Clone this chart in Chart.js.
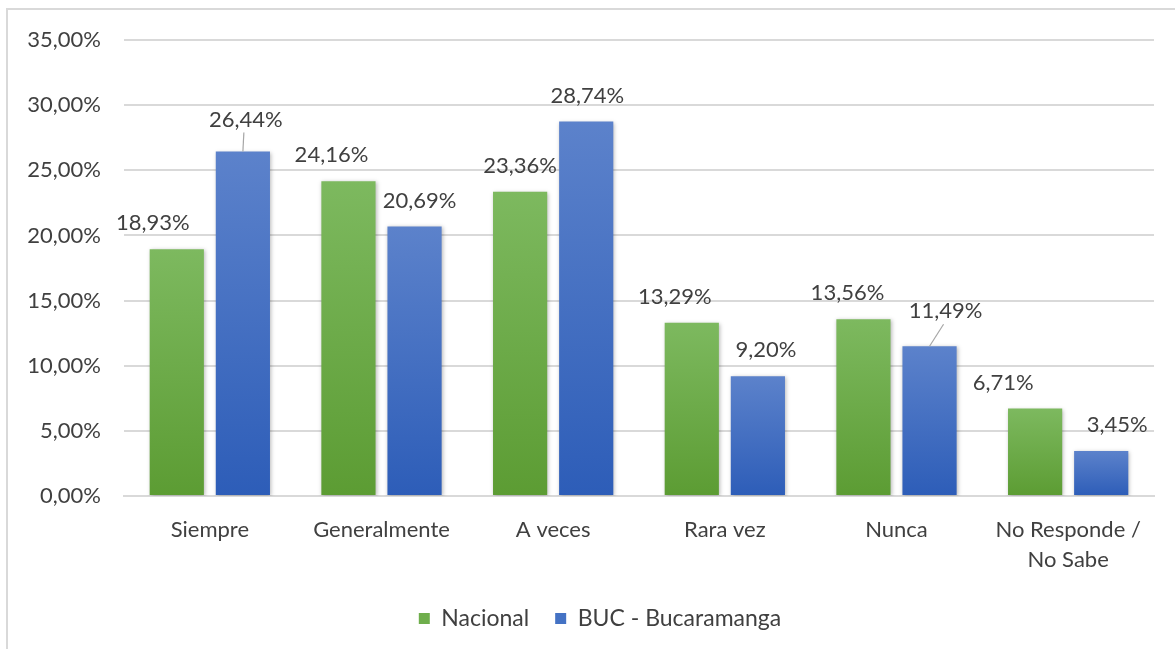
<!DOCTYPE html>
<html>
<head>
<meta charset="utf-8">
<script src="https://cdn.jsdelivr.net/npm/chart.js@4/dist/chart.umd.min.js"></script>
<style>
  html, body { margin: 0; padding: 0; background: #fff; }
  #frame {
    position: absolute; left: 6px; top: 8px; width: 1175px; height: 660px;
    border-left: 2px solid #d9d9d9; border-top: 2px solid #d9d9d9;
  }
  #wrap { position: absolute; left: 0; top: 0; width: 1175px; height: 649px; }
</style>
</head>
<body>
<div id="frame"></div>
<div id="wrap"><canvas id="chart"></canvas></div>
<script>
/* survey answers, percent */
const categories = ["Siempre", "Generalmente", "A veces", "Rara vez", "Nunca", ["No Responde /", "No Sabe"]];
const nacional = [18.93, 24.16, 23.36, 13.29, 13.56, 6.71];
const bucaramanga = [26.44, 20.69, 28.74, 9.20, 11.49, 3.45];
const yTicks = [0, 5, 10, 15, 20, 25, 30, 35];

const FONT = "Lato, 'Open Sans', sans-serif";
const TEXT = "#404040";
const FS = 22;

/* label nudges (px) so labels sit like in the original sheet */
const labelShift = [
  [[-24, 0], [3, -6]],
  [[-17, 0], [5, 0]],
  [[0, 0], [1, 0]],
  [[-17, 0], [8, 0]],
  [[-16, 0], [16, -9]],
  [[-32, 0], [16, 0]]
];
// which labels get a short leader line back to the bar
const leaders = [[false, true], [false, false], [false, false], [false, false], [false, true], [false, false]];

function fmt(v) {
  return v.toFixed(2).replace(".", ",") + "%";
}

/* vertical gradient for each bar, lighter at the top */
function barGradient(top, bottom) {
  return (ctx) => {
    const chart = ctx.chart;
    if (!chart.chartArea || ctx.raw === undefined) return bottom;
    const y = chart.scales.y;
    const g = chart.ctx.createLinearGradient(0, y.getPixelForValue(ctx.raw), 0, y.getPixelForValue(0));
    g.addColorStop(0, top);
    g.addColorStop(1, bottom);
    return g;
  };
}

const barShadow = {
  id: "barShadow",
  beforeDatasetsDraw(chart) {
    const c = chart.ctx;
    c.save();
    c.shadowColor = "rgba(0,0,0,0.28)";
    c.shadowBlur = 4;
    c.shadowOffsetX = 1;
    c.shadowOffsetY = 1;
  },
  afterDatasetsDraw(chart) {
    chart.ctx.restore();
  }
};

// centre the legend under the plot instead of the whole canvas
const legendNudge = {
  id: "legendNudge",
  afterLayout(chart) {
    if (chart.legend) chart.legend.left += 46;
  }
};

const valueLabels = {
  id: "valueLabels",
  afterDatasetsDraw(chart) {
    const c = chart.ctx;
    c.save();
    c.font = FS + "px " + FONT;
    c.fillStyle = TEXT;
    c.textAlign = "center";
    c.textBaseline = "middle";
    chart.data.datasets.forEach((ds, di) => {
      const meta = chart.getDatasetMeta(di);
      meta.data.forEach((bar, i) => {
        const s = labelShift[i][di];
        const lx = bar.x + s[0];
        const ly = bar.y - 26 + s[1];
        if (leaders[i][di]) {
          c.strokeStyle = "#a6a6a6";
          c.lineWidth = 1.2;
          c.beginPath();
          c.moveTo(lx - 2, ly + 13);
          c.lineTo(bar.x, bar.y);
          c.stroke();
        }
        c.fillText(fmt(ds.data[i]), lx, ly);
      });
    });
    c.restore();
  }
};

const config = {
  type: "bar",
  data: {
    labels: categories,
    datasets: [
      {
        label: "Nacional",
        data: nacional,
        backgroundColor: barGradient("#7db95f", "#5c9c33"),
        borderWidth: 0
      },
      {
        label: "BUC - Bucaramanga",
        data: bucaramanga,
        backgroundColor: barGradient("#5c82cb", "#2d5db8"),
        borderWidth: 0
      }
    ]
  },
  options: {
    responsive: true,
    maintainAspectRatio: false,
    animation: false,
    devicePixelRatio: 1,
    layout: { padding: { top: 40, right: 21, bottom: 9, left: 0 } },
    categoryPercentage: 0.77,
    barPercentage: 0.82,
    scales: {
      x: {
        grid: { display: false, drawTicks: false },
        border: { display: true, color: "#d9d9d9", width: 2 },
        ticks: {
          color: TEXT,
          font: { family: FONT, size: FS, lineHeight: 1.36 },
          padding: 19,
          maxRotation: 0,
          autoSkip: false
        },
        afterFit(scale) { scale.height = 85; }
      },
      y: {
        min: 0,
        max: 35,
        afterBuildTicks(scale) { scale.ticks = yTicks.map((v) => ({ value: v })); },
        afterFit(scale) { scale.width = 124; },
        grid: { color: "#d9d9d9", lineWidth: 2, drawTicks: false },
        border: { display: false },
        ticks: {
          color: TEXT,
          font: { family: FONT, size: FS },
          padding: 23,
          callback: (v) => fmt(v)
        }
      }
    },
    plugins: {
      legend: {
        position: "bottom",
        labels: {
          color: TEXT,
          font: { family: FONT, size: 23 },
          boxWidth: 11,
          boxHeight: 11,
          padding: 26,
          generateLabels(chart) {
            const fills = ["#6fae4c", "#4472c4"];
            return chart.data.datasets.map((ds, i) => ({
              text: ds.label,
              fillStyle: fills[i],
              strokeStyle: fills[i],
              lineWidth: 0,
              datasetIndex: i,
              fontColor: TEXT
            }));
          }
        }
      },
      tooltip: { enabled: false }
    }
  },
  plugins: [barShadow, valueLabels, legendNudge]
};

const chart = new Chart(document.getElementById("chart"), config);
</script>
</body>
</html>
